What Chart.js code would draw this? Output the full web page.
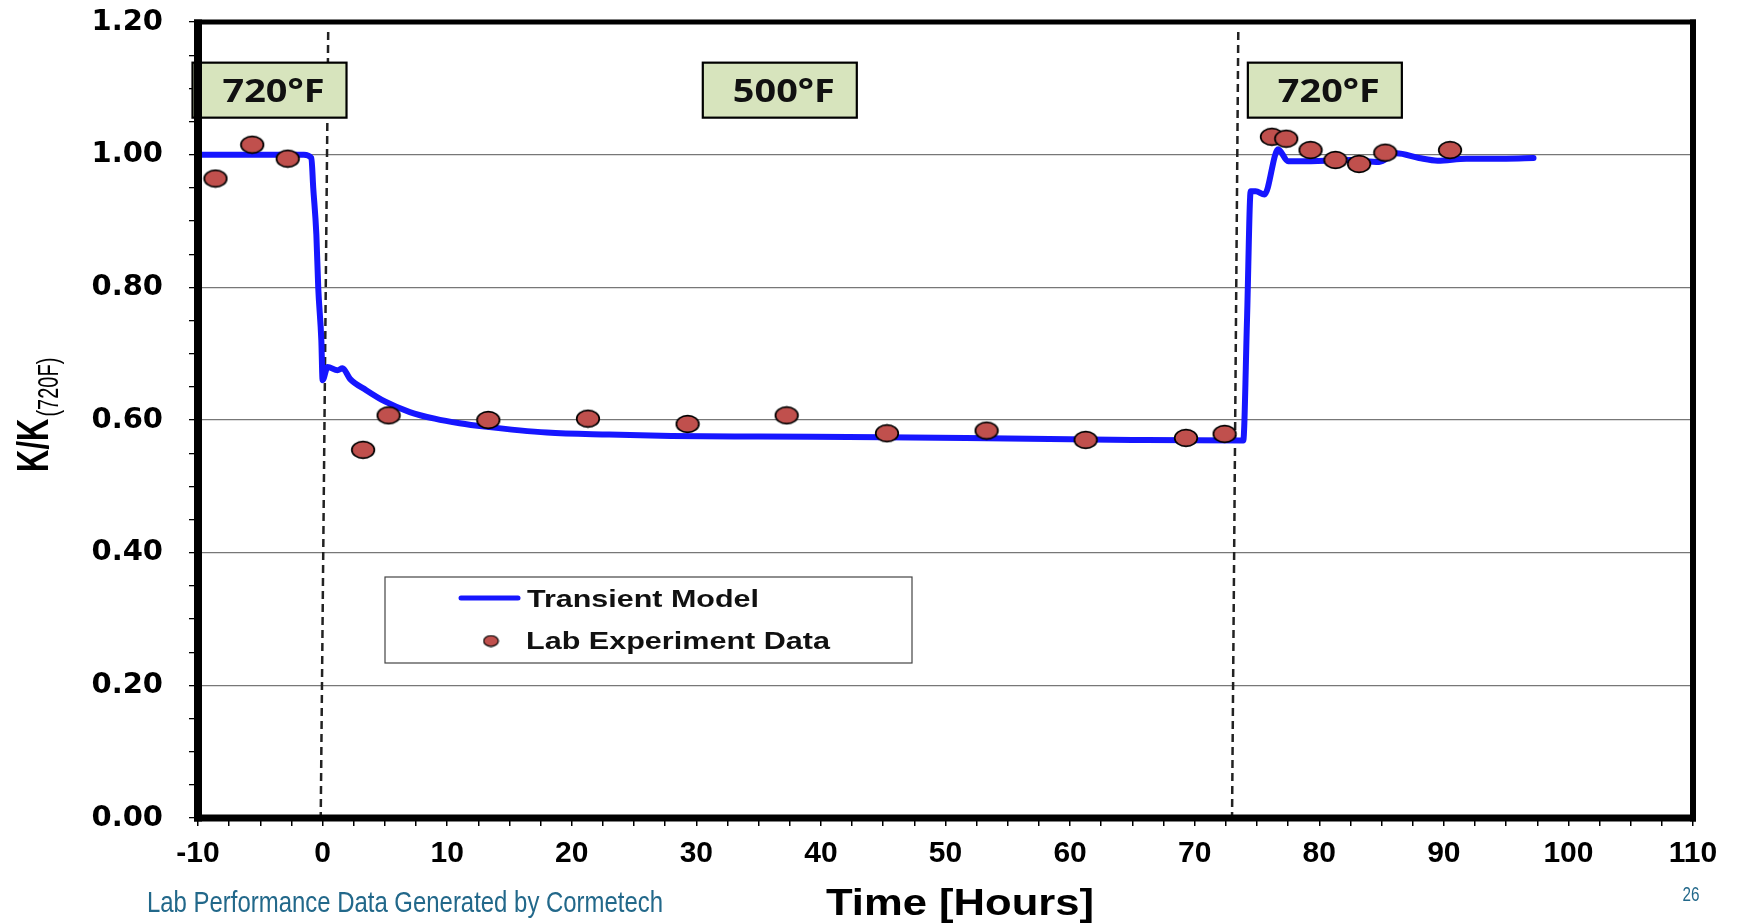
<!DOCTYPE html>
<html>
<head>
<meta charset="utf-8">
<script src="https://cdn.jsdelivr.net/npm/chart.js@4.4.1/dist/chart.umd.min.js"></script>
<style>
  html, body { margin: 0; padding: 0; background: #fff; }
</style>
</head>
<body>
<canvas id="grafica" width="1750" height="924"></canvas>
<script>
// modelo transitorio: horas vs K/K(720F)
const modeloHoras = [-10, -1.5, -0.9, -0.75, -0.5, -0.35, -0.1, 0.0, 0.4, 1.2,
  1.6, 2.2, 3.5, 5.0, 7.0, 9.0, 11.0, 13.0, 18.0, 23.0,
  28.0, 35.0, 45.0, 55.0, 65.0, 73.9, 74.2, 74.5, 74.9, 75.6,
  76.7, 77.5, 78.5, 82.5, 84.8, 86.2, 88.0, 89.5, 91.8, 95.0, 97.2];
const modeloK = [1.000, 1.000, 0.995, 0.950, 0.880, 0.800, 0.720, 0.660, 0.680, 0.675,
  0.678, 0.662, 0.645, 0.628, 0.612, 0.602, 0.595, 0.590, 0.581, 0.578,
  0.576, 0.575, 0.574, 0.572, 0.570, 0.569, 0.750, 0.945, 0.945, 0.940,
  1.008, 0.990, 0.990, 0.992, 0.989, 1.002, 0.995, 0.991, 0.994, 0.994, 0.995];

// datos del laboratorio
const labHoras = [-8.6, -5.65, -2.8, 3.25, 5.3, 13.3, 21.3, 29.3, 37.25, 45.3, 53.3,
  61.25, 69.3, 72.4, 76.2, 77.35, 79.3, 81.3, 83.2, 85.3, 90.5];
const labK = [0.964, 1.015, 0.994, 0.555, 0.607, 0.600, 0.602, 0.594, 0.607, 0.580, 0.584,
  0.570, 0.573, 0.579, 1.027, 1.024, 1.007, 0.992, 0.986, 1.003, 1.007];

// cambios de temperatura (lineas punteadas)
const cambioArriba = [0.45, 73.5];
const cambioAbajo = [-0.15, 73.0];

// etiquetas de temperatura
const tempTextos = ['720\u00B0F', '500\u00B0F', '720\u00B0F'];
const tempHoras = [-4.26, 36.7, 80.45];

const etiquetasY = ['0.00', '0.20', '0.40', '0.60', '0.80', '1.00', '1.20'];
const etiquetasX = ['-10', '0', '10', '20', '30', '40', '50', '60', '70', '80', '90', '100', '110'];

const AZUL = '#1616ff';
const ROJO = '#c0504d';

// marcador ovalado para los puntos
function ovalo(w, h, lw) {
  const c = document.createElement('canvas');
  c.width = w; c.height = h;
  const g = c.getContext('2d');
  g.beginPath();
  g.ellipse(w / 2, h / 2, w / 2 - lw, h / 2 - lw, 0, 0, Math.PI * 2);
  g.fillStyle = ROJO;
  g.fill();
  g.lineWidth = lw;
  g.strokeStyle = '#000';
  g.stroke();
  return c;
}
const marcador = ovalo(26, 20, 1.7);
const marcadorChico = ovalo(17, 13, 1.2);

function texto(ctx, str, x, y, font, color, ancho, align) {
  ctx.save();
  ctx.font = font;
  ctx.fillStyle = color;
  ctx.textBaseline = 'alphabetic';
  ctx.textAlign = align || 'left';
  const w = ctx.measureText(str).width;
  ctx.translate(x, y);
  if (ancho) ctx.scale(ancho / w, 1);
  ctx.fillText(str, 0, 0);
  ctx.restore();
}

const esMayorY = v => Math.round(v * 100) % 20 === 0;
const esMayorX = v => Math.round(v * 10) % 100 === 0;

const adornos = {
  id: 'adornos',
  afterDatasetsDraw(chart) {
    const ctx = chart.ctx;
    const sx = chart.scales.x, sy = chart.scales.y;
    // cajas de temperatura
    const yc = sy.getPixelForValue(1.098);
    tempTextos.forEach((t, i) => {
      const xc = sx.getPixelForValue(tempHoras[i]);
      ctx.save();
      ctx.fillStyle = '#d7e4bd';
      ctx.fillRect(xc - 77, yc - 27, 154, 55);
      ctx.lineWidth = 2.2;
      ctx.strokeStyle = '#000';
      ctx.strokeRect(xc - 77, yc - 27, 154, 55);
      ctx.restore();
      texto(ctx, t, xc + 4, yc + 12, 'bold 32px "Open Sans"', '#111', 102, 'center');
    });
  },
  afterDraw(chart) {
    const ctx = chart.ctx;
    const ca = chart.chartArea;
    // marco grueso
    ctx.save();
    ctx.fillStyle = '#000';
    ctx.fillRect(ca.left - 4, ca.top - 2.5, ca.right - ca.left + 7, 5);
    ctx.fillRect(ca.right - 3, ca.top - 2.5, 6, ca.bottom - ca.top + 6);
    ctx.fillRect(ca.left - 4, ca.bottom - 3.5, ca.right - ca.left + 7, 7);
    ctx.fillRect(ca.left - 4, ca.top - 2.5, 8, ca.bottom - ca.top + 6);
    ctx.restore();

    // leyenda
    const lx = ca.left + 187, ly = ca.top + 555;
    ctx.save();
    ctx.fillStyle = '#fff';
    ctx.fillRect(lx, ly, 527, 86);
    ctx.strokeStyle = '#444';
    ctx.lineWidth = 1.2;
    ctx.strokeRect(lx, ly, 527, 86);
    ctx.strokeStyle = AZUL;
    ctx.lineWidth = 5;
    ctx.lineCap = 'round';
    ctx.beginPath();
    ctx.moveTo(lx + 76, ly + 21);
    ctx.lineTo(lx + 133, ly + 21);
    ctx.stroke();
    ctx.drawImage(marcadorChico, lx + 106 - 8.5, ly + 64 - 6.5);
    ctx.restore();
    texto(ctx, 'Transient Model', lx + 142, ly + 30, 'bold 24px "Liberation Sans"', '#111', 232);
    texto(ctx, 'Lab Experiment Data', lx + 141, ly + 72, 'bold 24px "Liberation Sans"', '#111', 304);

    // titulo eje y con subindice
    ctx.save();
    ctx.translate(48, 472);
    ctx.rotate(-Math.PI / 2);
    ctx.scale(1, 1.45);
    ctx.fillStyle = '#000';
    ctx.textBaseline = 'alphabetic';
    ctx.font = 'bold 31px "Liberation Sans"';
    ctx.fillText('K/K', 0, 0);
    const w = ctx.measureText('K/K').width;
    ctx.font = '20px "Liberation Sans"';
    ctx.fillText('(720F)', w + 2, 7);
    ctx.restore();

    // titulo eje x y pie
    texto(ctx, 'Time [Hours]', 960, 915, 'bold 36px "Liberation Sans"', '#000', 268, 'center');
    texto(ctx, 'Lab Performance Data Generated by Cormetech', 147, 912, '30px "Liberation Sans"', '#22688a', 516);
    texto(ctx, '26', 1691, 901, '21px "Liberation Sans"', '#22688a', 17, 'center');
  }
};

const lineaPunteada = i => ({
  type: 'scatter',
  data: [{ x: cambioArriba[i], y: 1.185 }, { x: cambioAbajo[i], y: 0 }],
  showLine: true,
  borderColor: '#222',
  borderWidth: 2.5,
  borderDash: [8, 5],
  pointRadius: 0,
  order: 3
});

const config = {
  type: 'scatter',
  data: {
    datasets: [
      {
        label: 'Lab Experiment Data',
        data: labHoras.map((h, i) => ({ x: h, y: labK[i] })),
        pointStyle: marcador,
        pointRadius: 10,
        order: 0
      },
      {
        label: 'Transient Model',
        data: modeloHoras.map((h, i) => ({ x: h, y: modeloK[i] })),
        showLine: true,
        borderColor: AZUL,
        borderWidth: 6,
        borderCapStyle: 'round',
        borderJoinStyle: 'round',
        cubicInterpolationMode: 'monotone',
        pointRadius: 0,
        order: 1
      },
      lineaPunteada(0),
      lineaPunteada(1)
    ]
  },
  options: {
    responsive: false,
    devicePixelRatio: 1,
    animation: false,
    layout: { padding: { left: 0, top: 22, right: 57, bottom: 0 } },
    plugins: {
      legend: { display: false },
      tooltip: { enabled: false }
    },
    scales: {
      x: {
        type: 'linear',
        min: -10,
        max: 110,
        afterFit: s => { s.height = 106; s.paddingLeft = 0; s.paddingRight = 0; },
        border: { display: false },
        grid: { drawOnChartArea: false, tickLength: 8, tickColor: '#000', lineWidth: 1.5 },
        ticks: {
          stepSize: 2.5,
          autoSkip: false,
          maxRotation: 0,
          padding: 10,
          color: '#000',
          font: { family: 'Liberation Sans', weight: 'bold', size: 30 },
          callback: v => esMayorX(v) ? etiquetasX[Math.round((v + 10) / 10)] : ''
        }
      },
      y: {
        min: 0,
        max: 1.2,
        afterFit: s => { s.width = 198; s.paddingTop = 0; s.paddingBottom = 0; },
        border: { display: false },
        grid: {
          color: c => esMayorY(c.tick.value) ? '#777' : 'rgba(0,0,0,0)',
          tickColor: '#000',
          lineWidth: 1.3,
          tickLength: 9
        },
        ticks: {
          stepSize: 0.05,
          autoSkip: false,
          padding: 26,
          color: '#000',
          font: { family: 'DejaVu Sans', weight: 'bold', size: 29 },
          callback: v => esMayorY(v) ? etiquetasY[Math.round(v * 5)] : ''
        }
      }
    }
  },
  plugins: [adornos]
};

window.grafica = new Chart(document.getElementById('grafica').getContext('2d'), config);
</script>
</body>
</html>
